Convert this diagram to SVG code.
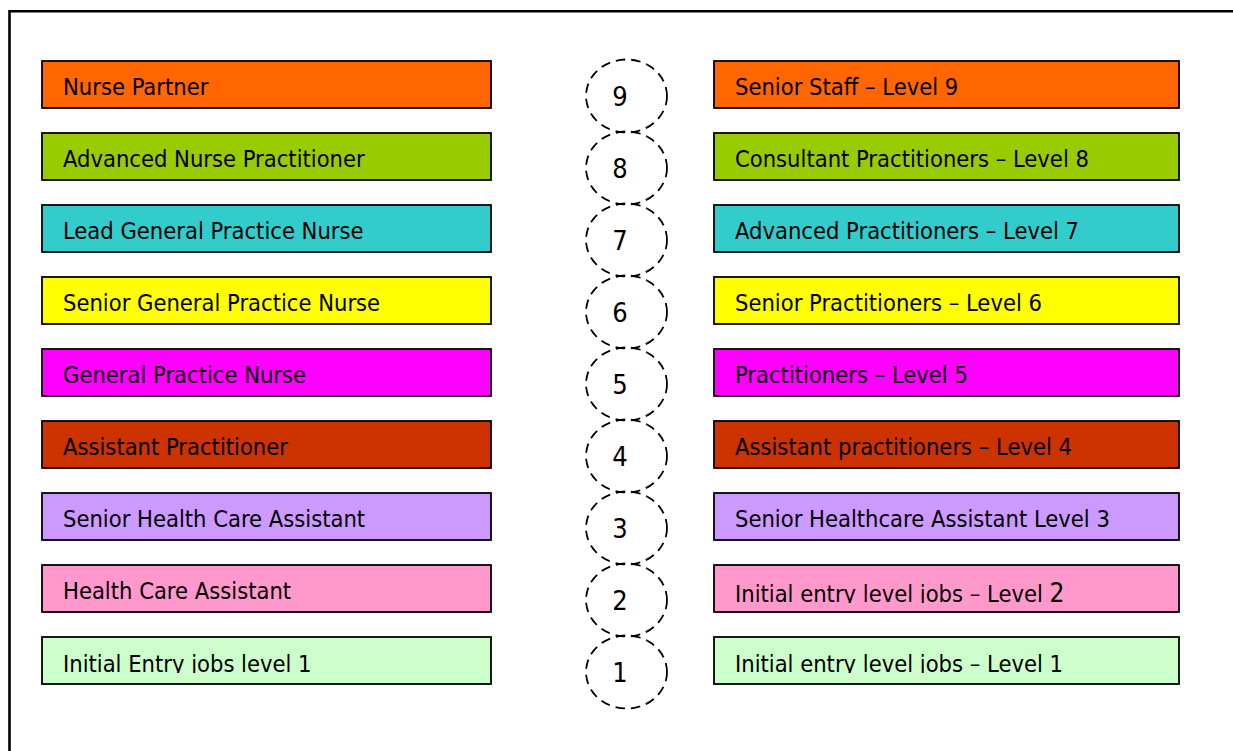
<svg xmlns="http://www.w3.org/2000/svg" width="1233" height="751" viewBox="0 0 1233 751">
  <style>
    .box { stroke: #000; stroke-width: 1.8; }
    .lbl { font-family: "DejaVu Sans Condensed", "DejaVu Sans", sans-serif; font-stretch: condensed; font-size: 23.5px; fill: #000; }
    .lvl { fill: none; stroke: #000; stroke-width: 1.8; stroke-dasharray: 9.5 6; }
    .num { font-family: "DejaVu Sans Condensed", "DejaVu Sans", sans-serif; font-stretch: condensed; font-size: 27px; fill: #000; text-anchor: middle; }
  </style>
  <defs>
    <!-- text in the lowest rows is cut off just under its baseline -->
    <clipPath id="clipL1"><rect x="42" y="637" width="449" height="36"/></clipPath>
    <clipPath id="clipR1"><rect x="714" y="637" width="465" height="36"/></clipPath>
    <clipPath id="clipR2"><rect x="714" y="565" width="465" height="38"/></clipPath>
  </defs>

  <rect width="1233" height="751" fill="#fff"/>

  <!-- outer frame: top and left edges -->
  <g id="frame" fill="none" stroke="#000" stroke-width="2.6">
    <polyline points="9.5,751 9.5,11.3 1233,11.3"/>
  </g>

  <!-- left column: job titles -->
  <g id="left-9"><rect class="box" x="42" y="61" width="449" height="47" fill="#FF6600"/><text class="lbl" x="63" y="95">Nurse Partner</text></g>
  <g id="left-8"><rect class="box" x="42" y="133" width="449" height="47" fill="#99CC00"/><text class="lbl" x="63" y="167">Advanced Nurse Practitioner</text></g>
  <g id="left-7"><rect class="box" x="42" y="205" width="449" height="47" fill="#33CCCC"/><text class="lbl" x="63" y="239">Lead General Practice Nurse</text></g>
  <g id="left-6"><rect class="box" x="42" y="277" width="449" height="47" fill="#FFFF00"/><text class="lbl" x="63" y="311">Senior General Practice Nurse</text></g>
  <g id="left-5"><rect class="box" x="42" y="349" width="449" height="47" fill="#FF00FF"/><text class="lbl" x="63" y="383">General Practice Nurse</text></g>
  <g id="left-4"><rect class="box" x="42" y="421" width="449" height="47" fill="#CC3300"/><text class="lbl" x="63" y="455">Assistant Practitioner</text></g>
  <g id="left-3"><rect class="box" x="42" y="493" width="449" height="47" fill="#CC99FF"/><text class="lbl" x="63" y="527">Senior Health Care Assistant</text></g>
  <g id="left-2"><rect class="box" x="42" y="565" width="449" height="47" fill="#FF99CC"/><text class="lbl" x="63" y="599">Health Care Assistant</text></g>
  <g id="left-1"><rect class="box" x="42" y="637" width="449" height="47" fill="#CCFFCC"/><text class="lbl" x="63" y="671.5" clip-path="url(#clipL1)">Initial Entry jobs level 1</text></g>

  <!-- middle column: level markers -->
  <g id="level-9"><ellipse class="lvl" cx="626.5" cy="96" rx="40.5" ry="36.5"/><text class="num" x="620" y="106">9</text></g>
  <g id="level-8"><ellipse class="lvl" cx="626.5" cy="168" rx="40.5" ry="36.5"/><text class="num" x="620" y="178">8</text></g>
  <g id="level-7"><ellipse class="lvl" cx="626.5" cy="240" rx="40.5" ry="36.5"/><text class="num" x="620" y="250">7</text></g>
  <g id="level-6"><ellipse class="lvl" cx="626.5" cy="312" rx="40.5" ry="36.5"/><text class="num" x="620" y="322">6</text></g>
  <g id="level-5"><ellipse class="lvl" cx="626.5" cy="384" rx="40.5" ry="36.5"/><text class="num" x="620" y="394">5</text></g>
  <g id="level-4"><ellipse class="lvl" cx="626.5" cy="456" rx="40.5" ry="36.5"/><text class="num" x="620" y="466">4</text></g>
  <g id="level-3"><ellipse class="lvl" cx="626.5" cy="528" rx="40.5" ry="36.5"/><text class="num" x="620" y="538">3</text></g>
  <g id="level-2"><ellipse class="lvl" cx="626.5" cy="600" rx="40.5" ry="36.5"/><text class="num" x="620" y="610">2</text></g>
  <g id="level-1"><ellipse class="lvl" cx="626.5" cy="672" rx="40.5" ry="36.5"/><text class="num" x="620" y="682">1</text></g>

  <!-- right column: framework levels -->
  <g id="right-9"><rect class="box" x="714" y="61" width="465" height="47" fill="#FF6600"/><text class="lbl" x="735" y="95">Senior Staff – Level 9</text></g>
  <g id="right-8"><rect class="box" x="714" y="133" width="465" height="47" fill="#99CC00"/><text class="lbl" x="735" y="167">Consultant Practitioners – Level 8</text></g>
  <g id="right-7"><rect class="box" x="714" y="205" width="465" height="47" fill="#33CCCC"/><text class="lbl" x="735" y="239">Advanced Practitioners – Level 7</text></g>
  <g id="right-6"><rect class="box" x="714" y="277" width="465" height="47" fill="#FFFF00"/><text class="lbl" x="735" y="311">Senior Practitioners – Level 6</text></g>
  <g id="right-5"><rect class="box" x="714" y="349" width="465" height="47" fill="#FF00FF"/><text class="lbl" x="735" y="383">Practitioners – Level 5</text></g>
  <g id="right-4"><rect class="box" x="714" y="421" width="465" height="47" fill="#CC3300"/><text class="lbl" x="735" y="455">Assistant practitioners – Level 4</text></g>
  <g id="right-3"><rect class="box" x="714" y="493" width="465" height="47" fill="#CC99FF"/><text class="lbl" x="735" y="527">Senior Healthcare Assistant Level 3</text></g>
  <g id="right-2"><rect class="box" x="714" y="565" width="465" height="47" fill="#FF99CC"/><text class="lbl" x="735" y="601.5" clip-path="url(#clipR2)">Initial entry level jobs – Level <tspan font-size="26px">2</tspan></text></g>
  <g id="right-1"><rect class="box" x="714" y="637" width="465" height="47" fill="#CCFFCC"/><text class="lbl" x="735" y="671.5" clip-path="url(#clipR1)">Initial entry level jobs – Level 1</text></g>
</svg>
